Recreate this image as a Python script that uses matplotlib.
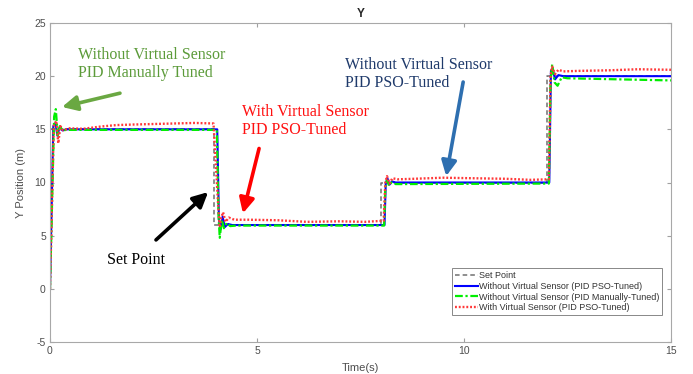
import matplotlib
matplotlib.use('Agg')
import matplotlib.pyplot as plt

# set point
t_sp = [0, 0, 3.97, 3.97, 8.0, 8.0, 12.0, 12.0, 15]
y_sp = [0, 15, 15, 6, 6, 10, 10, 20, 20]

# without virtual sensor, PID PSO-tuned
t_pso = [0, 0.08, 0.13, 0.18, 0.23, 0.3, 0.4, 4.04, 4.08, 4.12, 4.17, 4.22, 4.3, 4.4,
         8.08, 8.11, 8.15, 8.2, 8.26, 8.35, 12.06, 12.1, 12.14, 12.2, 12.28, 12.4, 15]
y_pso = [0, 15.3, 15.6, 14.4, 15.2, 14.9, 15.0, 15.0, 6.5, 5.6, 6.8, 5.8, 6.1, 6.0,
         6.0, 9.9, 10.4, 9.8, 10.1, 10.0, 10.0, 20.5, 20.7, 19.7, 20.1, 20.0, 20.0]

# without virtual sensor, PID manually tuned
t_man = [0, 0.1, 0.14, 0.19, 0.24, 0.3, 0.4, 4.03, 4.07, 4.1, 4.15, 4.2, 4.27, 4.35, 4.5,
         8.07, 8.1, 8.14, 8.19, 8.25, 8.35, 12.05, 12.09, 12.13, 12.19, 12.26, 12.36, 12.5, 15]
y_man = [0, 16.2, 16.9, 14.3, 15.3, 14.9, 14.95, 14.95, 7.0, 4.8, 6.5, 5.7, 6.2, 5.9, 5.95,
         5.95, 9.6, 10.2, 9.7, 10.0, 9.85, 9.9, 19.5, 21.1, 19.4, 19.1, 19.9, 19.8, 19.6]

# with virtual sensor, PID PSO-tuned
t_vs = [0, 0.09, 0.15, 0.2, 0.25, 0.32, 0.45, 0.8, 1.2, 1.6, 2.0, 2.5, 3.0, 3.5, 3.95,
        4.06, 4.1, 4.13, 4.18, 4.24, 4.32, 4.45, 4.8, 5.5, 6.2, 7.0, 7.6, 8.06,
        8.1, 8.14, 8.2, 8.27, 8.4, 8.8, 9.5, 10.2, 11.0, 11.6, 12.05,
        12.09, 12.13, 12.2, 12.28, 12.4, 12.8, 13.5, 14.2, 15]
y_vs = [0, 15.3, 15.8, 13.7, 15.3, 14.9, 15.1, 15.05, 15.25, 15.4, 15.45, 15.5, 15.55, 15.6, 15.55,
        8.0, 5.8, 6.6, 7.2, 6.3, 6.7, 6.5, 6.5, 6.45, 6.3, 6.35, 6.3, 6.4,
        10.0, 10.6, 9.9, 10.4, 10.3, 10.35, 10.45, 10.4, 10.35, 10.25, 10.3,
        20.0, 20.9, 20.2, 20.6, 20.45, 20.5, 20.55, 20.65, 20.6]

labels = ['Set Point', 'Without Virtual Sensor (PID PSO-Tuned)',
          'Without Virtual Sensor (PID Manually-Tuned)', 'With Virtual Sensor (PID PSO-Tuned)']

plt.rcParams['font.family'] = ['Liberation Sans', 'DejaVu Sans']
plt.rcParams['axes.unicode_minus'] = False
fig = plt.figure(figsize=(6.93, 3.74), dpi=100)
ax = fig.add_axes([50/693, 1-342/374, 621/693, 319/374])

ax.plot(t_sp, y_sp, color='#707070', lw=1.1, dashes=(3, 2), label=labels[0])
ax.plot(t_pso, y_pso, '-', color='#0000ff', lw=1.5, label=labels[1])
ax.plot(t_man, y_man, color='#00ee00', lw=1.6, dashes=(3.5, 1.2, 1, 1.2), label=labels[2])
ax.plot(t_vs, y_vs, color='#ff3838', lw=1.7, dashes=(0.8, 0.8), label=labels[3])

ax.set_xlim(0, 15)
ax.set_ylim(-5, 25)
ax.set_xticks([0, 5, 10, 15])
ax.set_yticks([-5, 0, 5, 10, 15, 20, 25])
ax.tick_params(direction='in', top=True, right=True, length=3, labelsize=7.5,
               colors='#a0a0a0', labelcolor='#4d4d4d', pad=3)
for s in ax.spines.values():
    s.set_color('#a8a8a8')
    s.set_linewidth(0.8)

ax.set_title('Y', fontsize=8.5, fontweight='bold', color='#262626', pad=4)
ax.set_xlabel('Time(s)', fontsize=8, color='#4d4d4d', labelpad=5)
ax.set_ylabel('Y Position (m)', fontsize=8, color='#4d4d4d', labelpad=6)

leg = ax.legend(loc='lower right', bbox_to_anchor=(0.993, 0.07), fontsize=6.5,
                handlelength=2.6, handletextpad=0.1, borderpad=0.3, labelspacing=0.2,
                fancybox=False, framealpha=1, edgecolor='#888888')
leg.get_frame().set_linewidth(0.7)
for txt in leg.get_texts():
    txt.set_color('#333333')

serif = ['Liberation Serif', 'DejaVu Serif']
ax.text(0.68, 22.75, 'Without Virtual Sensor\nPID Manually Tuned', family=serif,
        fontsize=11.5, color='#5c9b3a', va='top', linespacing=1.15)
ax.text(7.13, 21.8, 'Without Virtual Sensor\nPID PSO-Tuned', family=serif,
        fontsize=11.5, color='#1f3a6b', va='top', linespacing=1.15)
ax.text(4.64, 17.4, 'With Virtual Sensor\nPID PSO-Tuned', family=serif,
        fontsize=11.5, color='#ff1010', va='top', linespacing=1.15)
ax.text(1.38, 3.5, 'Set Point', family=serif, fontsize=11.5, color='black', va='top')

arrow = dict(arrowstyle='-|>,head_width=0.45,head_length=0.9', lw=2.6, shrinkA=0, shrinkB=0)
ax.annotate('', xy=(0.29, 17.1), xytext=(1.69, 18.4),
            arrowprops=dict(arrow, color='#6aa842'))
ax.annotate('', xy=(9.57, 10.6), xytext=(9.98, 19.45),
            arrowprops=dict(arrow, color='#2e6fb0'))
ax.annotate('', xy=(4.66, 7.1), xytext=(5.05, 13.2),
            arrowprops=dict(arrow, color='#ff0000'))
ax.annotate('', xy=(3.82, 9.1), xytext=(2.56, 4.6),
            arrowprops=dict(arrow, color='black'))

fig.savefig('out.png', dpi=100)
